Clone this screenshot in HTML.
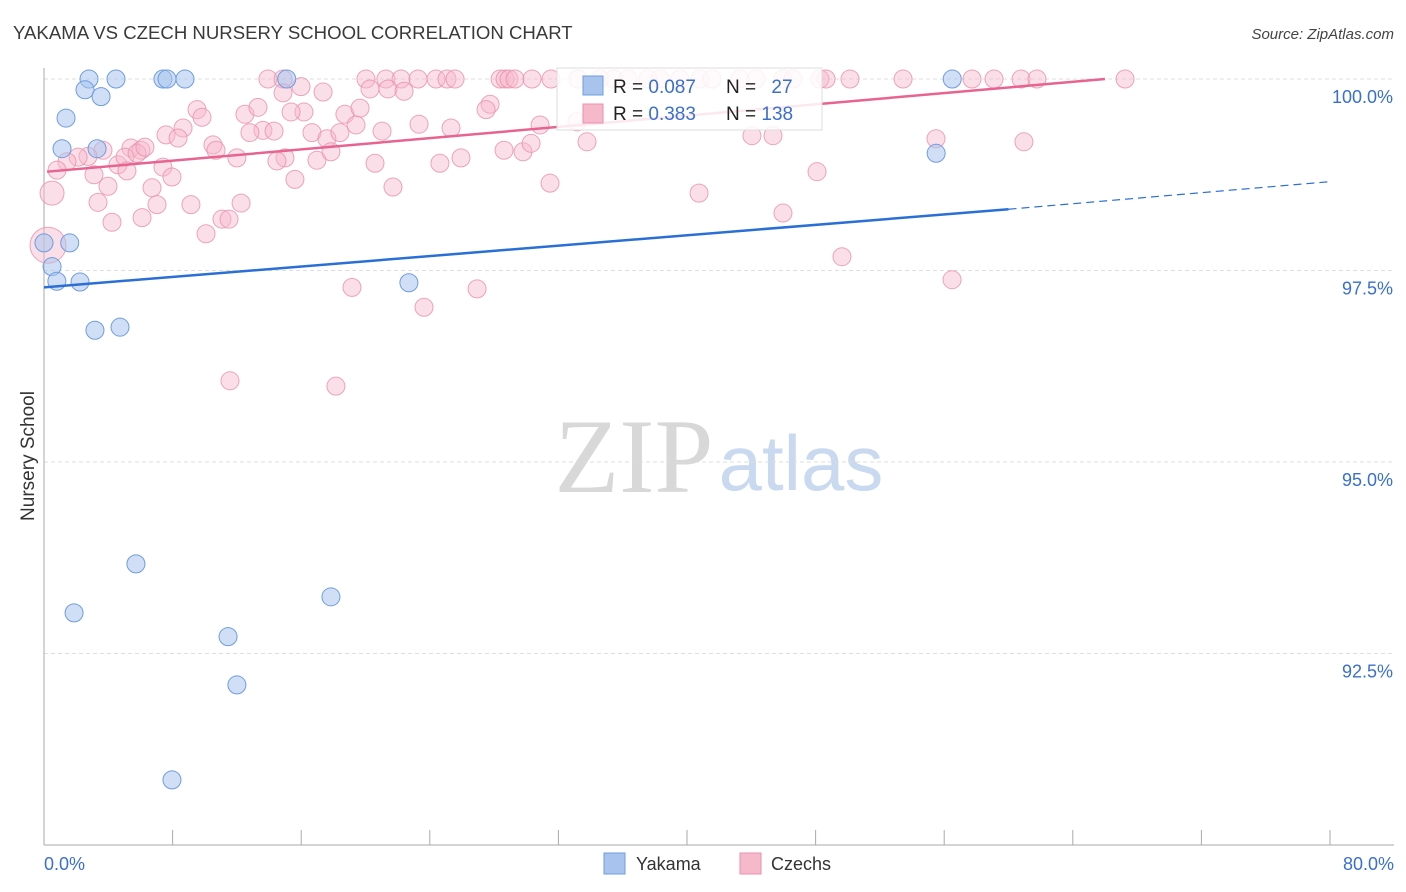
<!DOCTYPE html>
<html><head><meta charset="utf-8">
<style>
body{margin:0;background:#fff;font-family:"Liberation Sans",sans-serif;}
svg{display:block}
</style></head>
<body>
<svg id="chart" width="1406" height="892" xmlns="http://www.w3.org/2000/svg">
<text x="13" y="39" font-size="18.6" fill="#3a3a3a" font-family="Liberation Sans, sans-serif">YAKAMA VS CZECH NURSERY SCHOOL CORRELATION CHART</text>
<text x="1394" y="39" font-size="15" fill="#444" text-anchor="end" font-style="italic">Source: ZipAtlas.com</text>
<g>
<text x="634" y="492" font-size="106" fill="#d8d8d8" text-anchor="middle" font-family="Liberation Serif, serif">ZIP</text>
<text x="801" y="490" font-size="78" fill="#c9d9f0" text-anchor="middle">atlas</text>
</g>
<g id="grid"></g>
<g id="axes"></g>
<g id="pts"></g>
<g id="lines"></g>
<text transform="translate(34,456) rotate(-90)" font-size="19" fill="#333" text-anchor="middle">Nursery School</text>
<g>
<rect x="557" y="68" width="265" height="62" fill="#fff" fill-opacity="0.85" stroke="#ddd"/>
<rect x="583" y="76" width="20" height="19" fill="#a9c4ec" stroke="#6e9de0"/>
<rect x="583" y="104" width="20" height="19" fill="#f6b9cc" stroke="#e890ab"/>
<text x="613" y="93" font-size="19" fill="#222">R = <tspan fill="#3a6fd0">0.087</tspan></text>
<text x="726" y="93" font-size="19" fill="#222">N = <tspan fill="#3a6fd0" dx="10">27</tspan></text>
<text x="613" y="120" font-size="19" fill="#222">R = <tspan fill="#3a6fd0">0.383</tspan></text>
<text x="726" y="120" font-size="19" fill="#222">N = <tspan fill="#3a6fd0">138</tspan></text>
</g>
<g>
<rect x="604" y="853" width="21" height="21" fill="#a9c4ec" stroke="#6e9de0"/>
<text x="636" y="870" font-size="18" fill="#333">Yakama</text>
<rect x="740" y="853" width="21" height="21" fill="#f6b9cc" stroke="#e890ab"/>
<text x="771" y="870" font-size="18" fill="#333">Czechs</text>
</g>
</svg>
<script>
const yTicks=[100,97.5,95,92.5];
const yTickLabels=["100.0%","97.5%","95.0%","92.5%"];
const xTickCount=10;
const yakX=[2.8,4.48,7.4,7.65,8.77,15.1,2.55,3.55,1.37,1.12,3.3,56.5,55.5,0,1.6,0.5,0.8,2.24,22.7,3.17,4.73,5.72,1.87,17.85,11.45,12.0,7.96];
const yakY=[100,100,100,100,100,100,99.86,99.77,99.49,99.09,99.09,100,99.03,97.86,97.86,97.55,97.36,97.35,97.34,96.72,96.76,93.67,93.03,93.24,92.72,92.09,90.85];
const czX=[13.93,14.87,20.03,21.27,22.21,23.27,24.39,25.07,25.57,28.37,28.68,28.93,29.3,30.36,31.54,33.22,34.59,35.46,36.33,37.57,38.32,39.56,40.81,41.55,43.3,44.29,45.97,46.59,48.27,48.65,50.14,53.44,57.73,59.1,60.78,61.77,67.25,
15.99,17.36,20.28,21.4,22.4,27.75,27.5,9.52,9.83,12.5,13.31,14.87,16.17,15.37,18.72,19.66,23.33,25.32,30.86,33.16,7.59,8.65,8.34,13.62,12.81,14.31,16.67,17.6,18.41,21.03,19.41,10.51,10.7,5.41,6.03,3.67,2.74,2.12,1.43,0.81,4.6,5.04,5.79,6.28,7.4,5.16,7.96,3.11,3.98,12.0,14.99,14.49,16.98,17.85,20.59,25.94,24.63,28.62,29.8,30.3,33.78,44.04,45.35,55.49,60.96,15.61,6.72,21.71,31.48,40.75,48.09,3.36,7.03,9.14,12.26,6.1,4.23,11.07,11.51,10.08,45.97,49.64,56.49,19.16,26.94,23.64,11.57,18.16,0.5,0.25];
const czY=[100,100,100,100,100,100,100,100,100,100,100,100,100,100,100,100,100,100,100,100,100,100,100,100,100,100,100,100,100,100,100,100,100,100,100,100,100,
99.9,99.83,99.87,99.87,99.84,99.67,99.6,99.6,99.5,99.54,99.63,99.82,99.57,99.57,99.54,99.62,99.41,99.36,99.4,99.44,99.27,99.36,99.23,99.33,99.3,99.32,99.3,99.22,99.3,99.32,99.4,99.14,99.07,99.1,99.07,99.07,98.99,98.98,98.92,98.81,98.88,98.98,99.03,99.11,98.85,98.8,98.72,98.75,98.6,98.97,98.97,98.93,98.94,99.05,98.9,98.97,98.9,99.07,99.05,99.16,99.18,99.26,99.26,99.22,99.18,98.69,98.58,98.59,98.64,98.51,98.79,98.39,98.36,98.36,98.38,98.19,98.13,98.17,98.17,97.98,98.25,97.68,97.38,97.28,97.26,97.02,96.06,95.99,98.51,97.83];
const yakLineX=[0,60,80], yakLineY=[97.28,98.30,98.66];
const czLineX=[0.19,66.0], czLineY=[98.79,100];

const X=v=>44+v/80*1286;
const Y=v=>79+(100-v)/2.5*191.5;
const NS="http://www.w3.org/2000/svg";
function mk(tag,attrs,parent){const e=document.createElementNS(NS,tag);for(const k in attrs)e.setAttribute(k,attrs[k]);parent.appendChild(e);return e;}
const grid=document.getElementById('grid'),axes=document.getElementById('axes'),pts=document.getElementById('pts'),lines=document.getElementById('lines');
yTicks.forEach((t,i)=>{
  const l=mk('line',{x1:44,x2:1394,y1:Y(t),y2:Y(t),stroke:'#ddd','stroke-dasharray':'4,3'},grid);
  
  
  const tx=mk('text',{x:1393,y:Y(t)+24,'font-size':18,fill:'#3a6fd0','text-anchor':'end'},axes);
  tx.textContent=yTickLabels[i];
  
  
});
const ya=mk('line',{x1:44,x2:44,y1:68,y2:845,stroke:'#aaa'},axes);


const xa=mk('line',{x1:44,x2:1394,y1:845,y2:845,stroke:'#aaa'},axes);


for(let i=0;i<=xTickCount;i++){
  const v=i*80/xTickCount;
  const t=mk('line',{x1:X(v),x2:X(v),y1:830,y2:845,stroke:'#aaa'},axes);
  
  
}
const xl0=mk('text',{x:44,y:870,'font-size':18,fill:'#3a6fd0'},axes);xl0.textContent='0.0%';


const xl1=mk('text',{x:1394,y:870,'font-size':18,fill:'#3a6fd0','text-anchor':'end'},axes);xl1.textContent='80.0%';



czX.forEach((v,i)=>{
  const n=czX.length;
  const r=i==n-1?18:(i==n-2?12:9);
  const c=mk('circle',{cx:X(v),cy:Y(czY[i]),r:r,fill:'#f6b9cc','fill-opacity':0.45,stroke:'#e890ab','stroke-opacity':0.8},pts);
  
  
});
yakX.forEach((v,i)=>{
  const c=mk('circle',{cx:X(v),cy:Y(yakY[i]),r:9,fill:'#a9c4ec','fill-opacity':0.55,stroke:'#6e9de0'},pts);
  
  
});
const yl=mk('line',{x1:X(yakLineX[0]),y1:Y(yakLineY[0]),x2:X(yakLineX[1]),y2:Y(yakLineY[1]),stroke:'#2a6fd6','stroke-width':2.5},lines);


const yd=mk('line',{x1:X(yakLineX[1]),y1:Y(yakLineY[1]),x2:X(yakLineX[2]),y2:Y(yakLineY[2]),stroke:'#2a6fd6','stroke-width':1.2,'stroke-dasharray':'8,5'},lines);


const cl=mk('line',{x1:X(czLineX[0]),y1:Y(czLineY[0]),x2:X(czLineX[1]),y2:Y(czLineY[1]),stroke:'#e8638f','stroke-width':2.5},lines);


</script>
</body></html>
